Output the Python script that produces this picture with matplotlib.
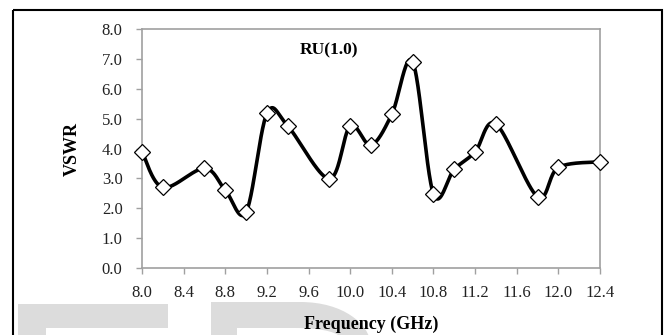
import numpy as np
import matplotlib
matplotlib.use("Agg")
import matplotlib.pyplot as plt
from matplotlib.patches import Rectangle, PathPatch, Polygon
from matplotlib.path import Path

# VSWR measurements over the X band
freq_ghz = [8.0, 8.2, 8.6, 8.8, 9.0, 9.2, 9.4, 9.8, 10.0, 10.2,
            10.4, 10.6, 10.8, 11.0, 11.2, 11.4, 11.8, 12.0, 12.4]
vswr = [3.90, 2.70, 3.34, 2.61, 1.87, 5.18, 4.76, 2.99, 4.76, 4.12,
        5.15, 6.91, 2.48, 3.31, 3.89, 4.83, 2.39, 3.37, 3.56]

x_ticks = [8.0, 8.4, 8.8, 9.2, 9.6, 10.0, 10.4, 10.8, 11.2, 11.6, 12.0, 12.4]
y_ticks = [0, 1, 2, 3, 4, 5, 6, 7, 8]
series_label = "RU(1.0)"

plt.rcParams["font.family"] = ["Liberation Serif", "DejaVu Serif"]

W, H = 665, 335
fig = plt.figure(figsize=(W / 100, H / 100), dpi=100)

# Background layer in pixel units: frame and faint watermark letters
bg = fig.add_axes([0, 0, 1, 1], zorder=0)
bg.set_xlim(0, W)
bg.set_ylim(H, 0)
bg.axis("off")

wm = "#dcdcdc"
bg.add_patch(Polygon([(18, 304), (168, 304), (168, 328), (46, 328), (46, 340), (18, 340)],
                     closed=True, facecolor=wm, edgecolor="none"))
p_codes = [Path.MOVETO, Path.LINETO, Path.LINETO, Path.CURVE4, Path.CURVE4, Path.CURVE4, Path.CLOSEPOLY]
p_verts = [(211, 340), (211, 302), (300, 302), (345, 302), (367, 325), (370, 340), (211, 340)]
bg.add_patch(PathPatch(Path(p_verts, p_codes), facecolor=wm, edgecolor="none"))
inner_verts = [(237, 340), (237, 328), (295, 328), (325, 328), (340, 333), (343, 340), (237, 340)]
bg.add_patch(PathPatch(Path(inner_verts, p_codes), facecolor="white", edgecolor="none"))

bg.add_patch(Rectangle((12.7, 9.5), 649.5, 340, fill=False, edgecolor="black", linewidth=1.5))

# Main plot
ax = fig.add_axes([142 / W, 1 - 268 / H, (600 - 142) / W, (268 - 29.3) / H], zorder=2)
ax.set_facecolor("white")


def smooth_curve(xs, ys, n=40):
    """Piecewise cubic Bezier through the points (spreadsheet-style smoothing)."""
    pts = np.column_stack([xs, ys]).astype(float)
    m = len(pts)
    out = []
    t = np.linspace(0, 1, n)[:, None]
    for i in range(m - 1):
        p0 = pts[max(i - 1, 0)]
        p1 = pts[i]
        p2 = pts[i + 1]
        p3 = pts[min(i + 2, m - 1)]
        c1 = p1 + (p2 - p0) / 6.0
        c2 = p2 - (p3 - p1) / 6.0
        seg = ((1 - t) ** 3) * p1 + 3 * ((1 - t) ** 2) * t * c1 + 3 * (1 - t) * t ** 2 * c2 + t ** 3 * p2
        out.append(seg if i == 0 else seg[1:])
    seg = np.vstack(out)
    return seg[:, 0], seg[:, 1]


sx, sy = smooth_curve(freq_ghz, vswr)
ax.plot(sx, sy, color="black", linewidth=2.6, solid_capstyle="round", zorder=3, clip_on=False)
ax.plot(freq_ghz, vswr, linestyle="none", marker="D", markersize=8,
        markerfacecolor="white", markeredgecolor="black", markeredgewidth=0.9,
        zorder=4, clip_on=False)

ax.set_xlim(8.0, 12.4)
ax.set_ylim(0, 8)
ax.set_xticks(x_ticks)
ax.set_xticklabels([f"{v:.1f}" for v in x_ticks])
ax.set_yticks(y_ticks)
ax.set_yticklabels([f"{v:.1f}" for v in y_ticks])

spine_col = "#a0a0a0"
for s in ax.spines.values():
    s.set_color(spine_col)
    s.set_linewidth(1.2)
ax.tick_params(axis="both", direction="out", length=4, width=1.0, color=spine_col,
               labelsize=12, labelcolor="#222222")
ax.tick_params(axis="x", pad=8)
ax.tick_params(axis="y", pad=10)

ax.set_xlabel("Frequency (GHz)", fontsize=13, fontweight="bold", labelpad=11)
ax.set_ylabel("VSWR", fontsize=13, fontweight="bold", labelpad=15)

ax.text(9.8, 7.3, series_label, fontsize=12.5, fontweight="bold", ha="center", va="center")

fig.savefig("out.png", dpi=100)
